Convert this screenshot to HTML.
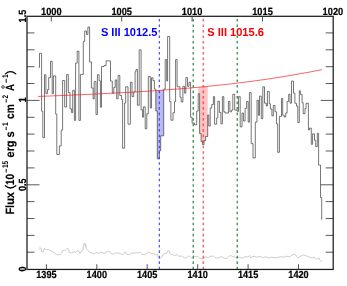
<!DOCTYPE html>
<html><head><meta charset="utf-8"><title>Spectrum</title>
<style>
html,body{margin:0;padding:0;background:#fff;}
body{width:347px;height:286px;overflow:hidden;font-family:"Liberation Sans",sans-serif;}
svg{display:block;will-change:transform;}
text{text-rendering:geometricPrecision;}
text{font-family:"Liberation Sans",sans-serif;font-weight:bold;}
</style></head><body>
<svg width="347" height="286" viewBox="0 0 347 286">
<rect width="347" height="286" fill="#fff"/>
<polygon points="155.8,90.6 163.7,90.1 163.7,135.8 160.7,135.8 160.7,150.7 159.3,150.7 159.3,158.8 157.3,158.8 157.3,111.0 155.8,111.0" fill="#b9b9f4"/>
<polygon points="198.2,87.2 207.7,86.3 207.7,136.5 205.6,136.5 205.6,140.6 204.0,140.6 204.0,144.6 202.5,144.6 202.5,141.7 201.1,141.7 201.1,133.6 199.6,133.6 199.6,93.7 198.2,93.7" fill="#ffc4c4"/>
<polyline points="38.4,249.0 39.8,247.8 41.0,248.1 41.5,251.6 43.2,251.9 44.4,248.5 46.2,249.8 48.8,249.5 51.3,251.2 53.9,252.4 56.5,254.7 60.0,254.7 61.7,253.3 62.6,250.7 65.2,250.2 66.9,248.5 68.6,249.0 69.2,252.4 71.2,252.9 73.8,251.9 75.6,252.4 77.3,250.7 79.0,251.2 79.9,253.6 81.6,250.7 83.0,250.2 83.7,243.8 85.1,243.3 85.9,246.4 85.4,244.3 86.1,248.1 87.5,250.2 90.1,252.4 92.6,253.3 94.4,254.2 96.1,252.4 98.7,253.3 100.4,252.1 103.0,252.9 105.6,253.3 107.3,251.2 109.9,251.6 111.3,253.6 113.4,254.2 115.1,252.9 117.7,252.9 120.3,253.6 122.9,254.7 124.6,252.4 125.5,251.9 126.4,254.2 129.0,254.7 131.6,252.9 134.1,253.3 135.9,252.6 138.5,252.9 139.7,251.9 141.1,253.3 141.7,254.2 144.3,254.7 146.1,253.3 147.8,252.9 148.6,251.6 150.4,253.3 153.0,253.6 155.6,254.7 157.3,254.2 158.2,257.6 159.9,258.1 161.6,257.1 163.3,254.2 165.1,253.3 166.8,253.3 167.7,250.7 169.1,250.7 169.7,253.3 172.0,254.7 174.6,255.4 177.2,254.7 178.9,256.4 181.5,255.9 184.1,257.6 185.8,258.1 187.6,256.4 189.3,255.9 191.0,257.6 192.7,258.5 194.5,256.4 197.1,256.8 197.7,256.4 199.5,258.1 202.1,258.8 203.8,258.1 205.5,256.8 208.1,257.6 210.7,256.4 213.3,255.9 215.0,257.6 217.6,258.1 220.2,257.1 222.8,256.8 224.5,258.5 227.1,258.1 228.9,256.4 230.6,255.4 232.3,256.4 234.9,257.1 236.6,258.1 239.2,257.1 241.0,258.1 243.6,257.6 246.1,256.4 247.9,257.1 249.6,255.4 251.0,258.1 252.0,256.7 254.3,256.3 256.6,257.2 260.1,256.3 262.4,257.9 265.8,256.7 268.1,257.9 271.6,257.2 275.1,257.9 278.5,257.2 280.8,256.7 283.1,257.2 286.6,256.3 290.0,256.7 292.3,254.9 294.7,254.4 297.0,256.3 298.1,257.9 301.6,255.6 303.9,254.9 307.3,256.3 309.6,257.2 311.9,257.9 314.2,257.2 316.6,259.1 318.9,257.9 320.0,260.2 321.9,261.8" fill="none" stroke="#bcbcbc" stroke-width="0.75" stroke-linejoin="round"/>
<polyline points="38.6,67.4 39.5,67.4 39.5,53.3 41.6,53.3 41.6,111.2 42.8,111.2 42.8,137.7 44.5,137.7 44.5,74.7 45.9,74.7 45.9,93.7 47.4,93.7 47.4,89.7 48.7,89.7 48.7,77.6 50.5,77.6 50.5,61.3 52.2,61.3 52.2,93.7 53.4,93.7 53.4,75.9 55.7,75.9 55.7,114.1 56.8,114.1 56.8,154.5 59.4,154.5 59.4,145.9 61.2,145.9 61.2,130.2 62.6,130.2 62.6,80.5 64.7,80.5 64.7,107.0 66.6,107.0 66.6,74.5 68.3,74.5 68.3,92.6 70.0,92.6 70.0,108.9 71.6,108.9 71.6,112.7 72.7,112.7 72.7,90.3 74.4,90.3 74.4,120.4 75.6,120.4 75.6,63.1 77.2,63.1 77.2,51.2 78.9,51.2 78.9,120.4 80.4,120.4 80.4,74.4 83.3,74.4 83.3,41.4 84.7,41.4 84.7,31.0 86.5,31.0 86.5,34.4 87.9,34.4 87.9,27.0 89.6,27.0 89.6,61.9 91.4,61.9 91.4,88.0 93.1,88.0 93.1,98.9 94.2,98.9 94.2,81.6 96.0,81.6 96.0,114.6 97.4,114.6 97.4,74.7 99.1,74.7 99.1,80.8 100.4,80.8 100.4,107.2 101.5,107.2 101.5,66.5 104.0,66.5 104.0,65.5 106.1,65.5 106.1,60.9 110.5,60.9 110.5,81.1 112.3,81.1 112.3,93.2 113.8,93.2 113.8,87.4 115.2,87.4 115.2,79.9 116.7,79.9 116.7,98.9 118.1,98.9 118.1,75.5 119.8,75.5 119.8,95.5 121.5,95.5 121.5,99.5 122.6,99.5 122.6,148.2 124.6,148.2 124.6,103.0 125.7,103.0 125.7,86.8 128.0,86.8 128.0,124.2 130.4,124.2 130.4,82.2 132.0,82.2 132.0,96.6 133.7,96.6 133.7,92.0 135.1,92.0 135.1,71.7 136.0,71.7 136.0,69.4 137.4,69.4 137.4,105.2 139.2,105.2 139.2,49.8 141.1,49.8 141.1,109.8 142.6,109.8 142.6,117.3 143.4,117.3 143.4,106.9 145.2,106.9 145.2,128.8 146.8,128.8 146.8,113.8 148.3,113.8 148.3,76.5 150.3,76.5 150.3,108.0 151.5,108.0 151.5,77.8 153.0,77.8 153.0,80.5 154.4,80.5 154.4,89.1 155.8,89.1 155.8,111.0 157.3,111.0 157.3,158.8 159.3,158.8 159.3,150.7 160.7,150.7 160.7,135.8 163.7,135.8 163.7,89.1 165.2,89.1 165.2,59.6 166.7,59.6 166.7,81.0 167.6,81.0 167.6,36.5 169.7,36.5 169.7,101.7 170.9,101.7 170.9,120.2 173.0,120.2 173.0,112.7 174.5,112.7 174.5,101.7 175.6,101.7 175.6,59.6 177.1,59.6 177.1,86.8 180.0,86.8 180.0,97.2 181.2,97.2 181.2,102.0 182.9,102.0 182.9,86.3 184.6,86.3 184.6,93.2 185.8,93.2 185.8,77.6 187.5,77.6 187.5,86.3 189.0,86.3 189.0,82.2 190.6,82.2 190.6,117.3 192.1,117.3 192.1,123.0 194.5,123.0 194.5,124.8 196.7,124.8 196.7,111.0 198.2,111.0 198.2,93.7 199.6,93.7 199.6,133.6 201.1,133.6 201.1,141.7 202.5,141.7 202.5,144.6 204.0,144.6 204.0,140.6 205.6,140.6 205.6,136.5 207.7,136.5 207.7,115.0 208.8,115.0 208.8,126.0 210.2,126.0 210.2,108.1 211.7,108.1 211.7,104.6 213.4,104.6 213.4,96.6 214.6,96.6 214.6,124.2 216.7,124.2 216.7,117.9 217.8,117.9 217.8,101.2 219.4,101.2 219.4,112.4 220.9,112.4 220.9,123.9 222.4,123.9 222.4,96.6 223.8,96.6 223.8,111.8 225.1,111.8 225.1,113.0 228.4,113.0 228.4,101.5 229.9,101.5 229.9,111.8 231.6,111.8 231.6,110.1 232.8,110.1 232.8,94.3 234.7,94.3 234.7,110.1 237.0,110.1 237.0,111.3 238.5,111.3 238.5,96.6 240.2,96.6 240.2,126.8 242.0,126.8 242.0,113.0 243.4,113.0 243.4,121.0 245.1,121.0 245.1,108.4 246.6,108.4 246.6,101.5 248.2,101.5 248.2,122.2 249.4,122.2 249.4,92.6 251.2,92.6 251.2,143.6 253.0,143.6 253.0,158.0 255.3,158.0 255.3,122.1 257.0,122.1 257.0,100.1 258.4,100.1 258.4,115.3 259.5,115.3 259.5,96.1 261.3,96.1 261.3,118.7 262.8,118.7 262.8,86.8 264.5,86.8 264.5,103.2 266.4,103.2 266.4,106.0 267.4,106.0 267.4,91.4 269.3,91.4 269.3,103.8 270.4,103.8 270.4,109.0 271.9,109.0 271.9,115.9 273.3,115.9 273.3,105.5 275.0,105.5 275.0,111.8 276.5,111.8 276.5,123.9 277.7,123.9 277.7,152.3 279.4,152.3 279.4,116.4 281.5,116.4 281.5,98.4 282.7,98.4 282.7,115.3 284.2,115.3 284.2,117.0 285.7,117.0 285.7,113.0 287.1,113.0 287.1,101.5 288.7,101.5 288.7,94.3 290.0,94.3 290.0,103.2 291.5,103.2 291.5,81.1 293.5,81.1 293.5,93.2 294.9,93.2 294.9,103.3 296.5,103.3 296.5,106.2 297.8,106.2 297.8,122.6 299.3,122.6 299.3,90.8 300.4,90.8 300.4,94.6 302.1,94.6 302.1,102.7 303.2,102.7 303.2,113.7 305.0,113.7 305.0,108.5 306.1,108.5 306.1,103.3 308.4,103.3 308.4,129.9 309.6,129.9 309.6,128.1 311.3,128.1 311.3,144.3 312.6,144.3 312.6,133.9 314.5,133.9 314.5,140.3 315.7,140.3 315.7,146.6 317.3,146.6 317.3,133.3 318.6,133.3 318.6,165.1 320.5,165.1 320.5,197.5 321.7,197.5 321.7,219.7" fill="none" stroke="#3c3c3c" stroke-width="0.7" stroke-linejoin="miter"/>
<polyline points="38.0,96.4 42.0,96.3 46.0,96.1 50.0,96.0 54.0,95.8 58.0,95.7 62.0,95.5 66.0,95.3 70.0,95.2 74.0,95.0 78.0,94.8 82.0,94.7 86.0,94.5 90.0,94.3 94.0,94.1 98.0,93.9 102.0,93.7 106.0,93.5 110.0,93.3 114.0,93.1 118.0,92.9 122.0,92.7 126.0,92.5 130.0,92.3 134.0,92.0 138.0,91.8 142.0,91.5 146.0,91.3 150.0,91.0 154.0,90.8 158.0,90.5 162.0,90.2 166.0,89.9 170.0,89.6 174.0,89.3 178.0,89.0 182.0,88.7 186.0,88.3 190.0,88.0 194.0,87.6 198.0,87.3 202.0,86.9 206.0,86.5 210.0,86.1 214.0,85.7 218.0,85.3 222.0,84.9 226.0,84.4 230.0,84.0 234.0,83.5 238.0,83.0 242.0,82.5 246.0,82.0 250.0,81.5 254.0,81.0 258.0,80.4 262.0,79.9 266.0,79.3 270.0,78.7 274.0,78.1 278.0,77.5 282.0,76.8 286.0,76.2 290.0,75.5 294.0,74.8 298.0,74.1 302.0,73.4 306.0,72.7 310.0,72.0 314.0,71.2 318.0,70.4 322.0,69.6 322.0,69.6" fill="none" stroke="#ff1010" stroke-width="0.65"/>
<g stroke-width="1.05" fill="none">
<line x1="159.3" y1="18.9" x2="159.3" y2="269.45" stroke="#3434ff" stroke-dasharray="2.6 2.91"/>
<line x1="193.2" y1="18.9" x2="193.2" y2="269.45" stroke="#0f6f1f" stroke-dasharray="2.6 2.91"/>
<line x1="203.2" y1="18.9" x2="203.2" y2="269.45" stroke="#ff2828" stroke-dasharray="2.6 2.91"/>
<line x1="237.2" y1="18.9" x2="237.2" y2="269.45" stroke="#0f6f1f" stroke-dasharray="2.6 2.91"/>
</g>
<g stroke="#505050" stroke-width="0.95"><line x1="27.0" y1="252.2" x2="34.5" y2="252.2"/><line x1="333.2" y1="252.2" x2="325.7" y2="252.2"/><line x1="27.0" y1="235.4" x2="34.5" y2="235.4"/><line x1="333.2" y1="235.4" x2="325.7" y2="235.4"/><line x1="27.0" y1="218.5" x2="34.5" y2="218.5"/><line x1="333.2" y1="218.5" x2="325.7" y2="218.5"/><line x1="27.0" y1="201.6" x2="34.5" y2="201.6"/><line x1="333.2" y1="201.6" x2="325.7" y2="201.6"/><line x1="27.0" y1="184.8" x2="39.5" y2="184.8"/><line x1="333.2" y1="184.8" x2="320.7" y2="184.8"/><line x1="27.0" y1="167.9" x2="34.5" y2="167.9"/><line x1="333.2" y1="167.9" x2="325.7" y2="167.9"/><line x1="27.0" y1="151.0" x2="34.5" y2="151.0"/><line x1="333.2" y1="151.0" x2="325.7" y2="151.0"/><line x1="27.0" y1="134.1" x2="34.5" y2="134.1"/><line x1="333.2" y1="134.1" x2="325.7" y2="134.1"/><line x1="27.0" y1="117.3" x2="34.5" y2="117.3"/><line x1="333.2" y1="117.3" x2="325.7" y2="117.3"/><line x1="27.0" y1="100.4" x2="39.5" y2="100.4"/><line x1="333.2" y1="100.4" x2="320.7" y2="100.4"/><line x1="27.0" y1="83.5" x2="34.5" y2="83.5"/><line x1="333.2" y1="83.5" x2="325.7" y2="83.5"/><line x1="27.0" y1="66.7" x2="34.5" y2="66.7"/><line x1="333.2" y1="66.7" x2="325.7" y2="66.7"/><line x1="27.0" y1="49.8" x2="34.5" y2="49.8"/><line x1="333.2" y1="49.8" x2="325.7" y2="49.8"/><line x1="27.0" y1="32.9" x2="34.5" y2="32.9"/><line x1="333.2" y1="32.9" x2="325.7" y2="32.9"/><line x1="46.4" y1="269.4" x2="46.4" y2="264.2"/><line x1="96.8" y1="269.4" x2="96.8" y2="264.2"/><line x1="147.2" y1="269.4" x2="147.2" y2="264.2"/><line x1="197.7" y1="269.4" x2="197.7" y2="264.2"/><line x1="248.1" y1="269.4" x2="248.1" y2="264.2"/><line x1="298.5" y1="269.4" x2="298.5" y2="264.2"/><line x1="51.3" y1="16.3" x2="51.3" y2="21.5"/><line x1="121.7" y1="16.3" x2="121.7" y2="21.5"/><line x1="192.1" y1="16.3" x2="192.1" y2="21.5"/><line x1="262.5" y1="16.3" x2="262.5" y2="21.5"/></g>
<rect x="27.0" y="16.3" width="306.2" height="253.14999999999998" fill="none" stroke="#1c1c1c" stroke-width="1.25"/>
<g font-size="10.4" fill="#000" stroke="#000" stroke-width="0.2"><text x="46.4" y="278.2" text-anchor="middle" textLength="20.4" lengthAdjust="spacingAndGlyphs">1395</text><text x="96.8" y="278.2" text-anchor="middle" textLength="20.4" lengthAdjust="spacingAndGlyphs">1400</text><text x="147.2" y="278.2" text-anchor="middle" textLength="20.4" lengthAdjust="spacingAndGlyphs">1405</text><text x="197.7" y="278.2" text-anchor="middle" textLength="20.4" lengthAdjust="spacingAndGlyphs">1410</text><text x="248.1" y="278.2" text-anchor="middle" textLength="20.4" lengthAdjust="spacingAndGlyphs">1415</text><text x="298.5" y="278.2" text-anchor="middle" textLength="20.4" lengthAdjust="spacingAndGlyphs">1420</text><text x="51.3" y="15.2" text-anchor="middle" textLength="20.6" lengthAdjust="spacingAndGlyphs">1000</text><text x="121.7" y="15.2" text-anchor="middle" textLength="20.6" lengthAdjust="spacingAndGlyphs">1005</text><text x="192.1" y="15.2" text-anchor="middle" textLength="20.6" lengthAdjust="spacingAndGlyphs">1010</text><text x="262.5" y="15.2" text-anchor="middle" textLength="20.6" lengthAdjust="spacingAndGlyphs">1015</text><text x="332.9" y="15.2" text-anchor="middle" textLength="20.6" lengthAdjust="spacingAndGlyphs">1020</text>
<text transform="translate(25.8,269.1) rotate(-90)" text-anchor="middle" textLength="5.0" lengthAdjust="spacingAndGlyphs">0</text>
<text transform="translate(25.8,184.8) rotate(-90)" text-anchor="middle" textLength="12.6" lengthAdjust="spacingAndGlyphs">0.5</text>
<text transform="translate(25.8,99.7) rotate(-90)" text-anchor="middle" textLength="5.0" lengthAdjust="spacingAndGlyphs">1</text>
<text transform="translate(25.8,16.1) rotate(-90)" text-anchor="middle" textLength="12.6" lengthAdjust="spacingAndGlyphs">1.5</text>
</g>
<text x="100.9" y="35.7" font-size="11.6" textLength="56.6" lengthAdjust="spacingAndGlyphs" fill="#0000ff">S III 1012.5</text>
<text x="207.3" y="35.7" font-size="11.6" textLength="56.6" lengthAdjust="spacingAndGlyphs" fill="#ff0000">S III 1015.6</text>
<text transform="translate(13.9,214.6) rotate(-90)" font-size="12.0" textLength="22.5" lengthAdjust="spacingAndGlyphs" stroke="#000" stroke-width="0.15">Flux</text><path d="M5.3,185.7 Q10.5,190.3 15.8,185.7" fill="none" stroke="#000" stroke-width="1.25" stroke-linecap="round"/><text transform="translate(13.9,185.1) rotate(-90)" font-size="12.0" textLength="11.1" lengthAdjust="spacingAndGlyphs" stroke="#000" stroke-width="0.15">10</text><line x1="6.2" y1="172.5" x2="6.2" y2="168.9" stroke="#000" stroke-width="0.95"/><text transform="translate(7.5,168.1) rotate(-90)" font-size="8.2" textLength="7.2" lengthAdjust="spacingAndGlyphs">15</text><text transform="translate(13.9,157.4) rotate(-90)" font-size="12.0" textLength="16.9" lengthAdjust="spacingAndGlyphs" stroke="#000" stroke-width="0.15">erg</text><text transform="translate(13.9,137.5) rotate(-90)" font-size="12.0" textLength="6.1" lengthAdjust="spacingAndGlyphs" stroke="#000" stroke-width="0.15">s</text><line x1="6.2" y1="130.1" x2="6.2" y2="126.8" stroke="#000" stroke-width="0.95"/><text transform="translate(7.5,125.9) rotate(-90)" font-size="8.2" textLength="3.6" lengthAdjust="spacingAndGlyphs">1</text><text transform="translate(13.9,118.9) rotate(-90)" font-size="12.0" textLength="14.6" lengthAdjust="spacingAndGlyphs" stroke="#000" stroke-width="0.15">cm</text><line x1="6.2" y1="102.5" x2="6.2" y2="99.1" stroke="#000" stroke-width="0.95"/><text transform="translate(7.5,98.4) rotate(-90)" font-size="8.2" textLength="3.6" lengthAdjust="spacingAndGlyphs">2</text><text transform="translate(13.9,90.9) rotate(-90)" font-size="12.0" textLength="7.0" lengthAdjust="spacingAndGlyphs" stroke="#000" stroke-width="0.15">A</text><circle cx="3.0" cy="87.0" r="1.3" fill="none" stroke="#000" stroke-width="0.75"/><line x1="6.2" y1="82.8" x2="6.2" y2="78.7" stroke="#000" stroke-width="0.95"/><text transform="translate(7.5,78.1) rotate(-90)" font-size="8.2" textLength="3.6" lengthAdjust="spacingAndGlyphs">1</text><path d="M5.3,73.9 Q10.5,69.3 15.8,73.9" fill="none" stroke="#000" stroke-width="1.25" stroke-linecap="round"/>
</svg>
</body></html>
